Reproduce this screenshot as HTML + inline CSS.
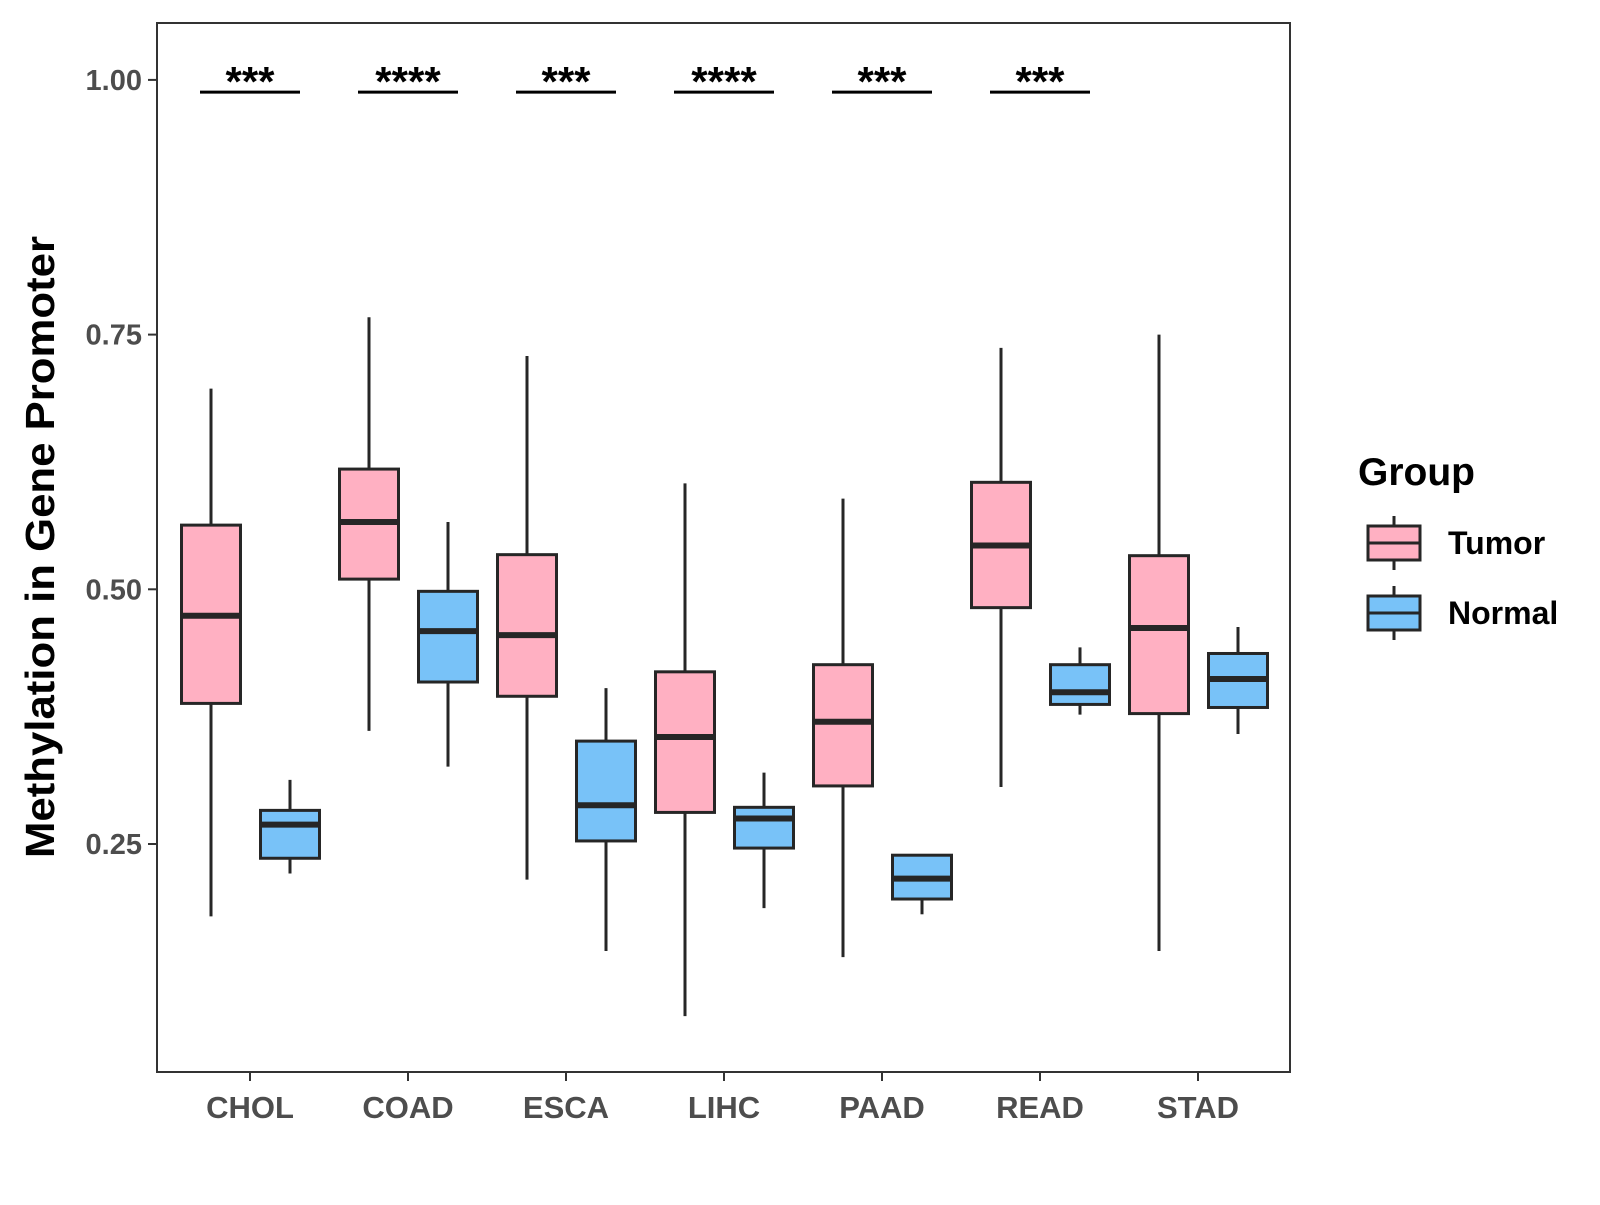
<!DOCTYPE html>
<html><head><meta charset="utf-8"><style>
body{margin:0;background:#fff}
svg text{font-family:"Liberation Sans",Arial,sans-serif;font-weight:bold}
</style></head><body>
<svg id="chart" width="1600" height="1200" xmlns="http://www.w3.org/2000/svg">
<g id="plot"></g>
</svg>
<script>
const categories=["CHOL","COAD","ESCA","LIHC","PAAD","READ","STAD"];
// [whiskerHigh, q3, median, q1, whiskerLow]
const tumorStats=[[0.697,0.563,0.474,0.388,0.179],[0.767,0.618,0.566,0.510,0.361],[0.729,0.534,0.455,0.395,0.215],[0.604,0.419,0.355,0.281,0.081],[0.589,0.426,0.370,0.307,0.139],[0.737,0.605,0.543,0.482,0.306],[0.750,0.533,0.462,0.378,0.145]];
const normalStats=[[0.313,0.283,0.269,0.236,0.221],[0.566,0.498,0.459,0.409,0.326],[0.403,0.351,0.288,0.253,0.145],[0.320,0.286,0.275,0.246,0.187],[0.239,0.239,0.216,0.196,0.181],[0.443,0.426,0.399,0.387,0.377],[0.463,0.437,0.412,0.384,0.358]];
const yTicks=[0.25,0.50,0.75,1.00];
const yTickLabels=["0.25","0.50","0.75","1.00"];
const sigLabels=["***","****","***","****","***","***"];
const sigLevel=0.988;

const NS="http://www.w3.org/2000/svg";
const svg=document.getElementById('chart');
const L=157,R=1290,T=23,B=1072;
const y=v=>844-(v-0.25)*1018.8;
const x=i=>250+158*i;
function el(tag,attrs,text){const e=document.createElementNS(NS,tag);for(const k in attrs)e.setAttribute(k,attrs[k]);if(text!==undefined)e.textContent=text;svg.appendChild(e);return e;}

function drawBox(cx,s,fill,name){
  const w=59;
  let e=el('line',{x1:cx,x2:cx,y1:y(s[0]),y2:y(s[4]),stroke:'#262626','stroke-width':3});
  
  
  e=el('rect',{x:cx-w/2,y:y(s[1]),width:w,height:y(s[3])-y(s[1]),fill:fill,stroke:'#262626','stroke-width':3});
  
  
  e=el('line',{x1:cx-w/2,x2:cx+w/2,y1:y(s[2]),y2:y(s[2]),stroke:'#262626','stroke-width':6});
  
  
}
categories.forEach((c,i)=>{
  drawBox(x(i)-39,tumorStats[i],'#FFB0C2','tumor-'+c.toLowerCase());
  drawBox(x(i)+40,normalStats[i],'#78C2F8','normal-'+c.toLowerCase());
  let t=el('line',{x1:x(i),x2:x(i),y1:B,y2:B+9,stroke:'#333','stroke-width':2});
  
  
  t=el('text',{x:x(i),y:1118,'text-anchor':'middle','font-size':31,fill:'#4d4d4d'},c);
  
  
});
sigLabels.forEach((s,i)=>{
  let l=el('line',{x1:x(i)-50,x2:x(i)+50,y1:y(sigLevel),y2:y(sigLevel),stroke:'#000','stroke-width':3});
  
  
  l=el('text',{x:x(i),y:y(sigLevel)+4,'text-anchor':'middle','font-size':42,fill:'#000'},s);
  
  
});
yTicks.forEach((v,i)=>{
  let t=el('line',{x1:L-9,x2:L,y1:y(v),y2:y(v),stroke:'#333','stroke-width':2});
  
  
  t=el('text',{x:L-15,y:y(v)+10,'text-anchor':'end','font-size':29,fill:'#4d4d4d'},yTickLabels[i]);
  
  
});
let f=el('rect',{x:L,y:T,width:R-L,height:B-T,fill:'none',stroke:'#333','stroke-width':2});


f=el('text',{x:0,y:0,transform:'translate(54,547) rotate(-90)','text-anchor':'middle','font-size':41,textLength:622,lengthAdjust:'spacingAndGlyphs',fill:'#000'},'Methylation in Gene Promoter');


f=el('text',{x:1358,y:485,'font-size':39,fill:'#000'},'Group');


[['Tumor','#FFB0C2',543],['Normal','#78C2F8',613]].forEach(([n,c,cy])=>{
  let k=el('line',{x1:1394,x2:1394,y1:cy-27,y2:cy+27,stroke:'#262626','stroke-width':3});
  
  
  k=el('rect',{x:1368,y:cy-17,width:52,height:34,fill:c,stroke:'#262626','stroke-width':3});
  
  
  k=el('line',{x1:1368,x2:1420,y1:cy,y2:cy,stroke:'#262626','stroke-width':3});
  
  
  k=el('text',{x:1448,y:cy+11,'font-size':32,fill:'#000'},n);
  
  
});
</script>
</body></html>
